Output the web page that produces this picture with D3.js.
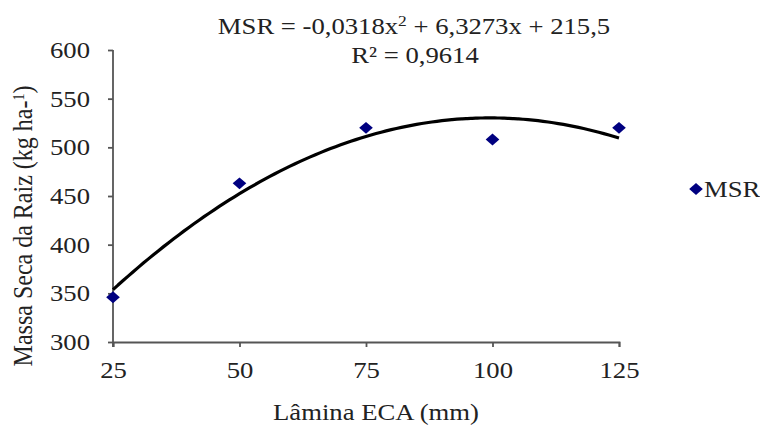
<!DOCTYPE html>
<html>
<head>
<meta charset="utf-8">
<script src="https://cdn.jsdelivr.net/npm/d3@7"></script>
<style>
  body { margin: 0; background: #fff; }
  text { font-family: "Liberation Serif", "Times New Roman", serif; fill: #222; }
</style>
</head>
<body>
<svg id="chart" width="760" height="425"></svg>
<script>
// data
var laminas = [25, 50, 75, 100, 125];
var msr = [346, 463, 520, 508, 520];
var xTicks = [25, 50, 75, 100, 125];
var yTicks = [300, 350, 400, 450, 500, 550, 600];
// fitted polynomial shown on the chart
var coef = [215.5, 6.3273, -0.0318];

var svg = d3.select("#chart");

// plot area
var plotLeft = 113, plotRight = 619, plotTop = 50, plotBottom = 342;
var fs = 23, sx = 1.16;   // the text in the picture is a little wide

var x = d3.scaleLinear().domain([25, 125]).range([plotLeft, plotRight]);
var y = d3.scaleLinear().domain([300, 600]).range([plotBottom, plotTop]);

// axes
var xAxis = d3.axisBottom(x).tickValues(xTicks).tickSize(5).tickPadding(15);
var yAxis = d3.axisLeft(y).tickValues(yTicks).tickSize(5);

var gx = svg.append("g")
    .attr("transform", "translate(0," + plotBottom + ")")
    .call(xAxis);
var gy = svg.append("g")
    .attr("transform", "translate(" + plotLeft + ",0)")
    .call(yAxis);

[gx, gy].forEach(function (g) {
    g.select(".domain").attr("stroke", "#555").attr("stroke-width", 1.8);
    g.selectAll(".tick line").attr("stroke", "#555").attr("stroke-width", 1.8);
    g.selectAll(".tick text")
        .attr("font-family", "Liberation Serif")
        .attr("font-size", fs)
        .attr("fill", "#222")
        .attr("transform", "scale(" + sx + ",1)");
});
gy.selectAll(".tick text").attr("x", -23 / sx);
gy.select(".domain").attr("d", "M0," + plotTop + "V" + (plotBottom + 5));

// trend line
var curve = d3.range(25, 125.01, 1).map(function (v) {
    return [v, coef[0] + coef[1] * v + coef[2] * v * v];
});
var line = d3.line()
    .x(function (d) { return x(d[0]); })
    .y(function (d) { return y(d[1]); })
    .curve(d3.curveBasis);
svg.append("path")
    .datum(curve)
    .attr("d", line)
    .attr("fill", "none")
    .attr("stroke", "#000")
    .attr("stroke-width", 3.2);

// points
var diamond = d3.symbol().type(d3.symbolDiamond2).size(90);
svg.selectAll(".pt")
    .data(laminas)
    .enter().append("path")
    .attr("class", "pt")
    .attr("d", diamond)
    .attr("transform", function (d, i) { return "translate(" + x(d) + "," + y(msr[i]) + ") scale(1.15,1)"; })
    .attr("fill", "#000080");

function label(px, py, anchor) {
    return svg.append("text")
        .attr("transform", "translate(" + px + "," + py + ") scale(" + sx + ",1)")
        .attr("text-anchor", anchor)
        .attr("font-size", fs);
}

// equation
var eq = label(414, 34, "middle");
eq.append("tspan").text("MSR = -0,0318x");
eq.append("tspan").attr("dy", -8).attr("font-size", 15).text("2");
eq.append("tspan").attr("dy", 8).text(" + 6,3273x + 215,5");

label(415, 63, "middle").text("R² = 0,9614");

// axis titles
label(376, 420, "middle").text("Lâmina ECA (mm)");

var yt = svg.append("text")
    .attr("transform", "translate(32,226) scale(" + sx + ",1) rotate(-90)")
    .attr("text-anchor", "middle")
    .attr("font-size", 24);
yt.append("tspan").text("Massa Seca da Raiz (kg ha-");
yt.append("tspan").attr("dy", -7).attr("font-size", 14).text("1");
yt.append("tspan").attr("dy", 7).text(")");

// legend
svg.append("path")
    .attr("d", diamond)
    .attr("transform", "translate(696,189) scale(1.15,1)")
    .attr("fill", "#000080");
label(704, 197, "start").text("MSR");
</script>
</body>
</html>
